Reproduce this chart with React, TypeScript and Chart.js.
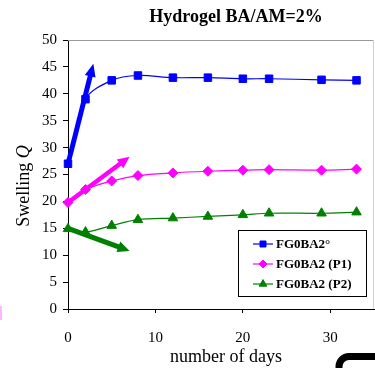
import React, { useEffect, useRef } from 'react';
import { Chart, registerables } from 'chart.js';
import { drawPoint } from 'chart.js/helpers';

Chart.register(...registerables);

// ---- data ----
const days = [0, 2, 5, 8, 12, 16, 20, 23, 29, 33];
const fg0ba2 = [27, 39, 42.5, 43.4, 43.0, 43.0, 42.8, 42.8, 42.6, 42.5];
const fg0ba2P1 = [19.8, 22.2, 23.8, 24.8, 25.3, 25.6, 25.8, 25.9, 25.8, 26.0];
const fg0ba2P2 = [14.9, 14.3, 15.5, 16.6, 16.9, 17.2, 17.5, 17.8, 17.8, 18.0];
const seriesLabels = ['FG0BA2°', 'FG0BA2 (P1)', 'FG0BA2 (P2)'];
const xTickValues = [0, 10, 20, 30];
const yTickValues = [0, 5, 10, 15, 20, 25, 30, 35, 40, 45, 50];
// arrows (data units)
const arrowStartX = [0, 0, 0];
const arrowStartY = [27, 19.8, 15];
const arrowEndX = [2.9, 7.05, 7.05];
const arrowEndY = [45.6, 28.3, 10.8];

const chartTitle = 'Hydrogel BA/AM=2%';
const yTitleMain = 'Swelling ';
const yTitleItalic = 'Q';
const xTitle = 'number of days';

const colors = ['#0000ff', '#ff00ff', '#008000'];
const pointStyles = ['rect', 'rectRot', 'triangle'];
const pointRadii = [5.3, 5, 5.5];
const SERIF = '"Liberation Serif", "Times New Roman", serif';

function drawArrow(ctx: CanvasRenderingContext2D, x0: number, y0: number, x1: number, y1: number, color: string, lw: number, headLen: number, headW: number) {
  const ang = Math.atan2(y1 - y0, x1 - x0);
  const c = Math.cos(ang), s = Math.sin(ang);
  const bx = x1 - headLen * c, by = y1 - headLen * s;
  ctx.save();
  ctx.strokeStyle = color;
  ctx.fillStyle = color;
  ctx.lineWidth = lw;
  ctx.lineCap = 'butt';
  ctx.beginPath();
  ctx.moveTo(x0, y0);
  ctx.lineTo(bx + c, by + s);
  ctx.stroke();
  ctx.beginPath();
  ctx.moveTo(x1, y1);
  ctx.lineTo(bx - (headW / 2) * s, by + (headW / 2) * c);
  ctx.lineTo(bx + (headW / 2) * s, by - (headW / 2) * c);
  ctx.closePath();
  ctx.fill();
  ctx.restore();
}

const decorPlugin = {
  id: 'decor',
  beforeDatasetsDraw(chart: any) {
    const { ctx, chartArea } = chart;
    ctx.save();
    ctx.lineWidth = 1;
    ctx.strokeStyle = '#9a9a9a';
    ctx.beginPath();
    ctx.moveTo(chartArea.left, chartArea.top + 0.5);
    ctx.lineTo(chartArea.right, chartArea.top + 0.5);
    ctx.stroke();
    ctx.strokeStyle = '#d0d0d0';
    ctx.beginPath();
    ctx.moveTo(chartArea.right - 0.5, chartArea.top);
    ctx.lineTo(chartArea.right - 0.5, chartArea.bottom);
    ctx.stroke();
    ctx.restore();
  },
  afterDatasetsDraw(chart: any) {
    const { ctx } = chart;
    const xs = chart.scales.x, ys = chart.scales.y;
    const widths = [5, 4.5, 5];
    const heads = [[13, 11], [12, 11], [12, 11]];
    for (let i = 0; i < arrowStartX.length; i++) {
      drawArrow(
        ctx,
        xs.getPixelForValue(arrowStartX[i]), ys.getPixelForValue(arrowStartY[i]),
        xs.getPixelForValue(arrowEndX[i]), ys.getPixelForValue(arrowEndY[i]),
        colors[i], widths[i], heads[i][0], heads[i][1]
      );
    }
  },
  afterDraw(chart: any) {
    const { ctx } = chart;
    ctx.save();
    // title
    ctx.fillStyle = '#000';
    ctx.font = `bold 18px ${SERIF}`;
    ctx.textAlign = 'center';
    ctx.textBaseline = 'alphabetic';
    ctx.fillText(chartTitle, 236, 21.5);

    // y title with italic Q
    ctx.save();
    ctx.translate(28.5, 186);
    ctx.rotate(-Math.PI / 2);
    ctx.font = `18px ${SERIF}`;
    const w1 = ctx.measureText(yTitleMain).width;
    ctx.font = `italic 18px ${SERIF}`;
    const w2 = ctx.measureText(yTitleItalic).width;
    const start = -(w1 + w2) / 2;
    ctx.textAlign = 'left';
    ctx.font = `18px ${SERIF}`;
    ctx.fillText(yTitleMain, start, 0);
    ctx.font = `italic 18px ${SERIF}`;
    ctx.fillText(yTitleItalic, start + w1, 0);
    ctx.restore();

    // x title
    ctx.font = `18px ${SERIF}`;
    ctx.textAlign = 'center';
    ctx.fillText(xTitle, 226, 362);

    // legend
    const lx = 238, ly = 230, lw = 128, lh = 66;
    ctx.fillStyle = '#fff';
    ctx.fillRect(lx, ly, lw, lh);
    ctx.strokeStyle = '#000';
    ctx.lineWidth = 1;
    ctx.strokeRect(lx + 0.5, ly + 0.5, lw, lh);
    ctx.font = `bold 13px ${SERIF}`;
    ctx.textAlign = 'left';
    ctx.textBaseline = 'middle';
    chart.data.datasets.forEach((ds: any, i: number) => {
      const y = ly + 14 + i * 20;
      ctx.strokeStyle = ds.borderColor;
      ctx.lineWidth = 1.2;
      ctx.beginPath();
      ctx.moveTo(253, y);
      ctx.lineTo(273, y);
      ctx.stroke();
      ctx.fillStyle = ds.borderColor;
      ctx.strokeStyle = ds.borderColor;
      ctx.lineWidth = 1;
      drawPoint(ctx, { pointStyle: ds.pointStyle, radius: ds.pointRadius * 0.8, borderWidth: 1, rotation: 0 } as any, 263, y);
      ctx.fillStyle = '#000';
      ctx.fillText(ds.label, 276, y + 1);
    });

    // cropped artifacts at the edges of the picture
    ctx.strokeStyle = '#000';
    ctx.lineWidth = 7;
    ctx.beginPath();
    ctx.moveTo(339, 372);
    ctx.lineTo(339, 367);
    ctx.arcTo(339, 356.5, 350, 356.5, 10);
    ctx.lineTo(380, 356.5);
    ctx.stroke();
    ctx.strokeStyle = '#ffb8ff';
    ctx.lineWidth = 2;
    ctx.beginPath();
    ctx.moveTo(1, 306);
    ctx.lineTo(1, 320);
    ctx.stroke();
    ctx.restore();
  },
};

export default function App() {
  const ref = useRef<HTMLCanvasElement>(null);
  useEffect(() => {
    document.body.style.margin = '0';
    const tickFont = { family: SERIF, size: 15 };
    const series = [fg0ba2, fg0ba2P1, fg0ba2P2];
    const chart = new Chart(ref.current as HTMLCanvasElement, {
      type: 'line',
      data: {
        datasets: series.map((vals, i) => ({
          label: seriesLabels[i],
          data: days.map((d, j) => ({ x: d, y: vals[j] })),
          borderColor: colors[i],
          backgroundColor: colors[i],
          borderWidth: 1.2,
          pointStyle: pointStyles[i] as any,
          pointRadius: pointRadii[i],
          pointBorderWidth: 1,
          tension: 0.33,
          clip: false as any,
          fill: false,
        })),
      },
      options: {
        animation: false,
        responsive: false,
        devicePixelRatio: 1,
        layout: { autoPadding: false, padding: { top: 40, right: 1, left: 0, bottom: 0 } },
        plugins: { legend: { display: false }, title: { display: false }, tooltip: { enabled: false } },
        scales: {
          x: {
            type: 'linear',
            min: 0,
            max: 35,
            afterBuildTicks: (s: any) => { s.ticks = xTickValues.map((v) => ({ value: v })); },
            afterFit: (s: any) => { s.height = 59; s.paddingLeft = 0; s.paddingRight = 0; },
            grid: { drawOnChartArea: false, drawTicks: true, tickLength: 4, tickColor: '#000', color: '#000' },
            border: { display: true, color: '#000', width: 1 },
            ticks: { font: tickFont, color: '#000', padding: 16, maxRotation: 0, autoSkip: false },
          },
          y: {
            type: 'linear',
            min: 0,
            max: 50,
            afterBuildTicks: (s: any) => { s.ticks = yTickValues.map((v) => ({ value: v })); },
            afterFit: (s: any) => { s.width = 68; s.paddingTop = 0; s.paddingBottom = 0; },
            grid: { drawOnChartArea: false, drawTicks: true, tickLength: 5, tickColor: '#000', color: '#000' },
            border: { display: true, color: '#000', width: 1 },
            ticks: { font: tickFont, color: '#000', padding: 6, autoSkip: false },
          },
        },
      },
      plugins: [decorPlugin],
    });
    return () => chart.destroy();
  }, []);
  return (
    <div style={{ position: 'absolute', left: 0, top: 0, width: 375, height: 368 }}>
      <canvas ref={ref} width={375} height={368} />
    </div>
  );
}
